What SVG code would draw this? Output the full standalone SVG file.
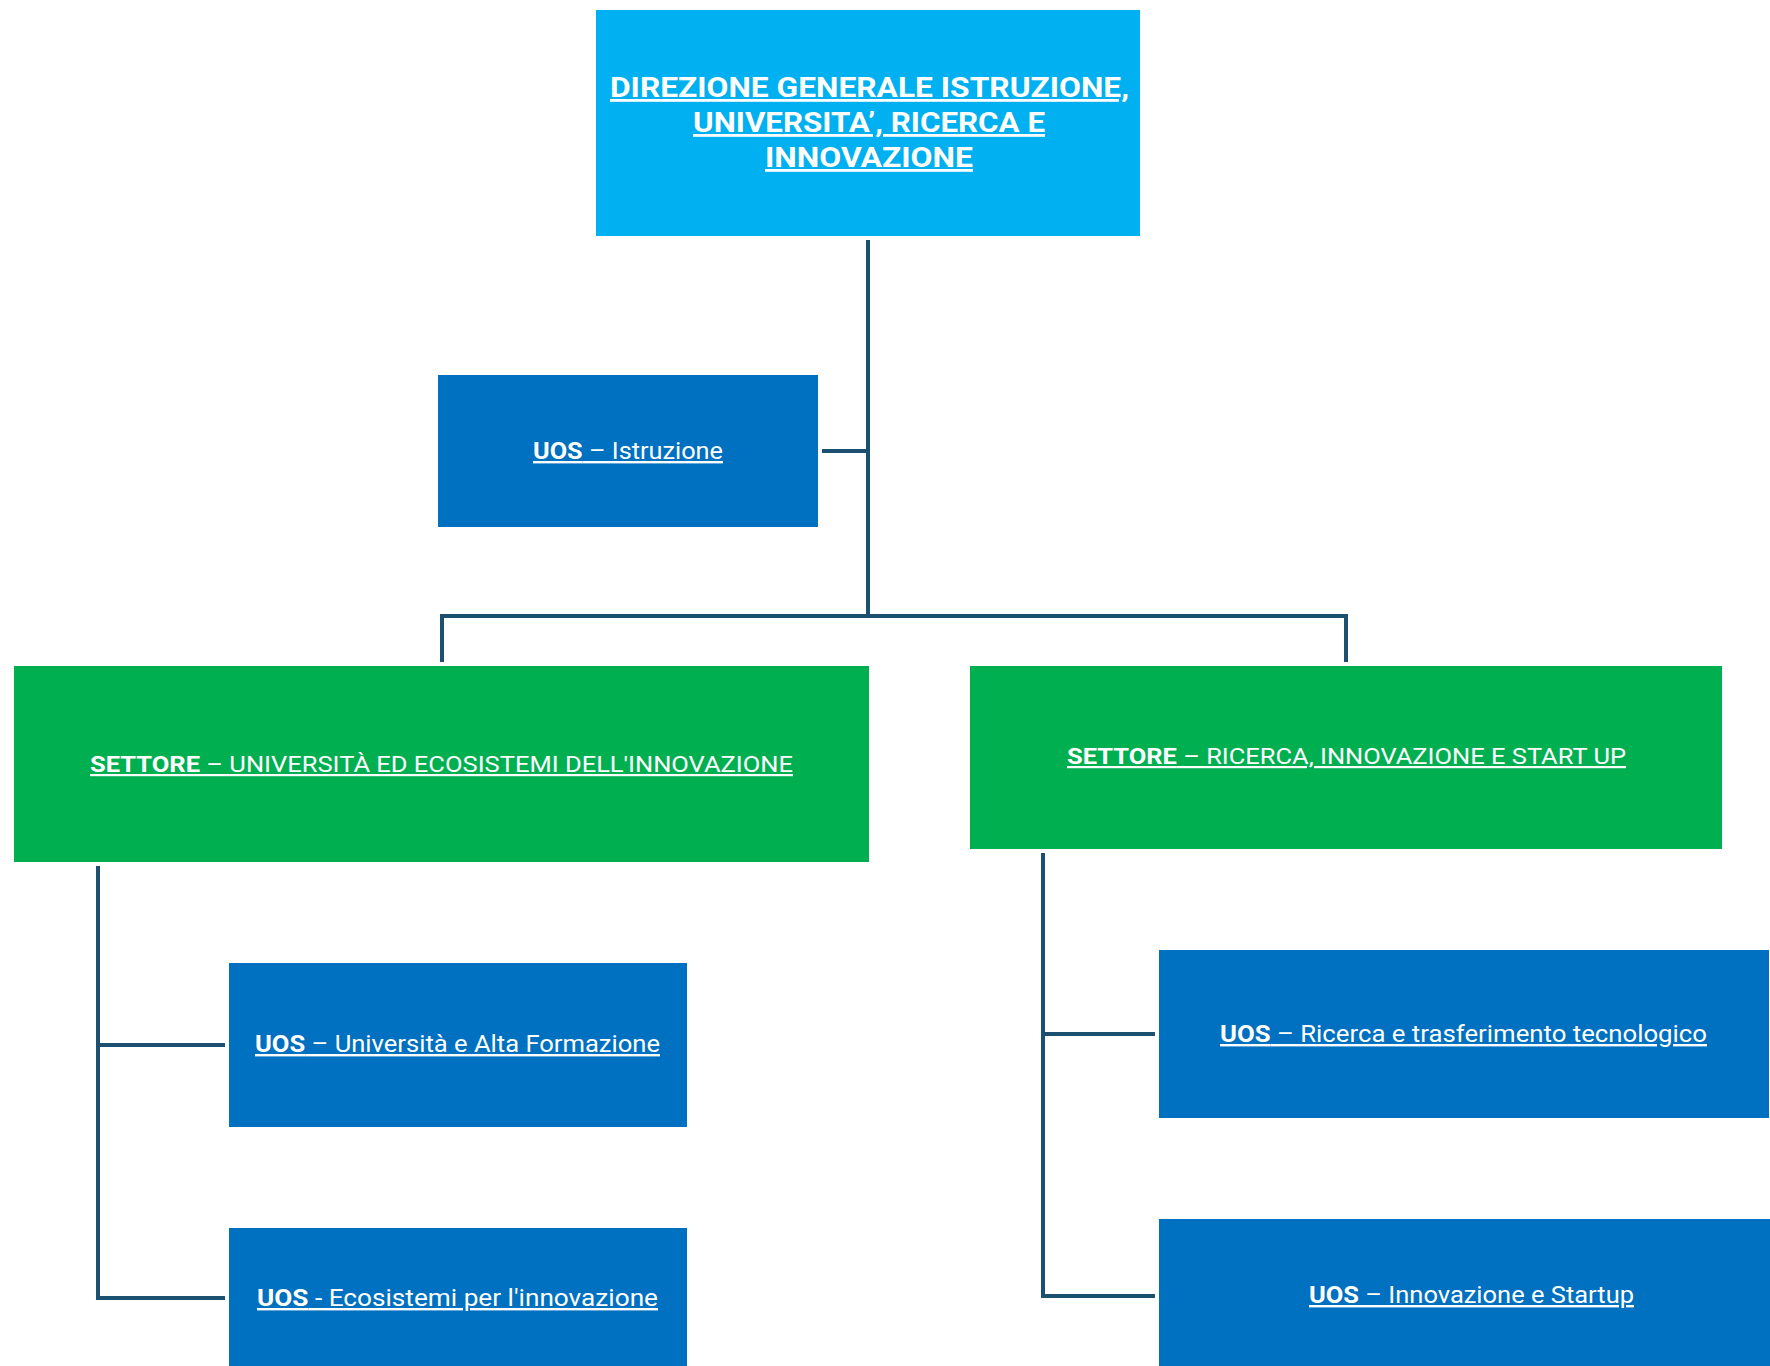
<svg xmlns="http://www.w3.org/2000/svg" width="1770" height="1366" viewBox="0 0 1770 1366">
<style>
.top{fill:#00B0F0}
.uos{fill:#0070C0}
.set{fill:#00B050}
.t{fill:#ffffff;font-family:Roboto,"Noto Sans","Liberation Sans",sans-serif;text-decoration:underline}
.tb{font-weight:bold}
.conn{fill:none;stroke:#1B5070;stroke-width:4;stroke-linejoin:miter;stroke-linecap:butt}
</style>
<rect width="1770" height="1366" fill="#ffffff"/>
<g id="connectors">
<path class="conn" d="M868 240 V616"/>
<path class="conn" d="M822 451 H868"/>
<path class="conn" d="M442 662 V616 H1346 V662"/>
<path class="conn" d="M98 866 V1298 H225"/>
<path class="conn" d="M98 1045 H225"/>
<path class="conn" d="M1043 853 V1296 H1155"/>
<path class="conn" d="M1043 1034 H1155"/>
</g>
<g id="direzione">
<rect class="top" x="596" y="10" width="544" height="226"/>
<text class="t tb" font-size="28" x="610" y="97" textLength="519" lengthAdjust="spacingAndGlyphs">DIREZIONE GENERALE ISTRUZIONE,</text>
<text class="t tb" font-size="28" x="693" y="132" textLength="352" lengthAdjust="spacingAndGlyphs">UNIVERSITA’, RICERCA E</text>
<text class="t tb" font-size="28" x="765" y="167" textLength="208" lengthAdjust="spacingAndGlyphs">INNOVAZIONE</text>
</g>
<g id="uos-istruzione">
<rect class="uos" x="438" y="375" width="380" height="152"/>
<text class="t" font-size="24" x="533" y="459" textLength="190" lengthAdjust="spacingAndGlyphs"><tspan class="tb">UOS</tspan> – Istruzione</text>
</g>
<g id="settore-universita">
<rect class="set" x="14" y="666" width="855" height="196"/>
<text class="t" font-size="22" x="90" y="772" textLength="703" lengthAdjust="spacingAndGlyphs"><tspan class="tb">SETTORE</tspan> – UNIVERSITÀ ED ECOSISTEMI DELL'INNOVAZIONE</text>
</g>
<g id="settore-ricerca">
<rect class="set" x="970" y="666" width="752" height="183"/>
<text class="t" font-size="22" x="1067" y="764" textLength="559" lengthAdjust="spacingAndGlyphs"><tspan class="tb">SETTORE</tspan> – RICERCA, INNOVAZIONE E START UP</text>
</g>
<g id="uos-universita">
<rect class="uos" x="229" y="963" width="458" height="164"/>
<text class="t" font-size="24" x="255" y="1052" textLength="405" lengthAdjust="spacingAndGlyphs"><tspan class="tb">UOS</tspan> – Università e Alta Formazione</text>
</g>
<g id="uos-ecosistemi">
<rect class="uos" x="229" y="1228" width="458" height="150"/>
<text class="t" font-size="24" x="257" y="1306" textLength="401" lengthAdjust="spacingAndGlyphs"><tspan class="tb">UOS</tspan> - Ecosistemi per l'innovazione</text>
</g>
<g id="uos-ricerca">
<rect class="uos" x="1159" y="950" width="610" height="168"/>
<text class="t" font-size="24" x="1220" y="1042" textLength="487" lengthAdjust="spacingAndGlyphs"><tspan class="tb">UOS</tspan> – Ricerca e trasferimento tecnologico</text>
</g>
<g id="uos-innovazione">
<rect class="uos" x="1159" y="1219" width="626" height="160"/>
<text class="t" font-size="24" x="1309" y="1303" textLength="325" lengthAdjust="spacingAndGlyphs"><tspan class="tb">UOS</tspan> – Innovazione e Startup</text>
</g>
</svg>
